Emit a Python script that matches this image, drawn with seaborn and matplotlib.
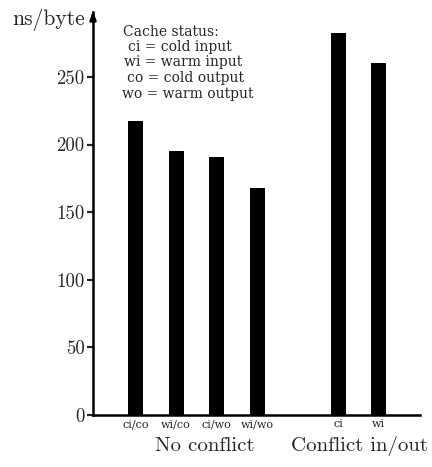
import matplotlib
matplotlib.use("Agg")
import matplotlib.pyplot as plt
import seaborn as sns
import pandas as pd

# Timing per byte for each cache configuration
categories = ["ci/co", "wi/co", "ci/wo", "wi/wo", "ci", "wi"]
groups = ["No conflict"] * 4 + ["Conflict in/out"] * 2
ns_per_byte = [217.5, 195.3, 190.8, 167.9, 282.5, 260.4]
y_ticks = [0, 50, 100, 150, 200, 250]
legend_lines = ["Cache status:", "ci = cold input", "wi = warm input",
                "co = cold output", "wo = warm output"]

sns.set_style("white")
plt.rcParams["font.family"] = ["cmr10", "DejaVu Serif"]
plt.rcParams["mathtext.fontset"] = "cm"
plt.rcParams["axes.formatter.use_mathtext"] = True
SMALL = ["DejaVu Serif"]

# Leave a one-slot gap between the two groups
pos = []
slot = 0
prev = None
for g in groups:
    if prev is not None and g != prev:
        slot += 1
    pos.append(slot)
    slot += 1
    prev = g

df = pd.DataFrame({"pos": pos, "value": ns_per_byte, "label": categories, "group": groups})

W, H = 432, 467
fig = plt.figure(figsize=(W / 100, H / 100), dpi=100)
ax_h = 415 - 12
ax = fig.add_axes([93 / W, (H - 415) / H, (420 - 93) / W, ax_h / H])

sns.barplot(data=df, x="pos", y="value", native_scale=True, color="black",
            width=0.37, saturation=1, edgecolor="none", ax=ax)

ax.set_xlim(-1.05, 7.02)
ax.set_ylim(0, 298)
ax.set_yticks(y_ticks)
ax.set_yticklabels([str(t) for t in y_ticks], fontsize=13.5)
ax.set_xticks(df["pos"])
ax.set_xticklabels(df["label"], fontsize=8, family=SMALL)
ax.tick_params(axis="x", length=0, pad=3)
ax.tick_params(axis="y", length=4, width=1.6, direction="out", pad=2, left=True)
ax.set_xlabel("")
ax.set_ylabel("")
for side in ["top", "right"]:
    ax.spines[side].set_visible(False)
for side in ["left", "bottom"]:
    ax.spines[side].set_linewidth(1.8)
    ax.spines[side].set_color("black")

# Arrowhead on the value axis
ax.annotate("", xy=(0, 1.01), xytext=(0, 0.97), xycoords="axes fraction",
            arrowprops=dict(arrowstyle="-|>,head_length=0.5,head_width=0.18",
                            color="black", lw=1.8))

fig.text(85 / W, 1 - 25 / H, "ns/byte", fontsize=15.5, ha="right", va="baseline")

# Group captions under the tick labels
centers = {"No conflict": 205, "Conflict in/out": 359}
for g, cx in centers.items():
    fig.text(cx / W, 1 - 451 / H, g, ha="center", va="baseline", fontsize=15)

# Cache status key
lefts = [123, 128, 124, 127, 122]
ys = [32, 47, 62, 78, 94]
for txt, x0, y0 in zip(legend_lines, lefts, ys):
    fig.text(x0 / W, 1 - y0 / H, txt, fontsize=10, ha="left", va="center", family=SMALL)

fig.savefig("out.png", dpi=100)
